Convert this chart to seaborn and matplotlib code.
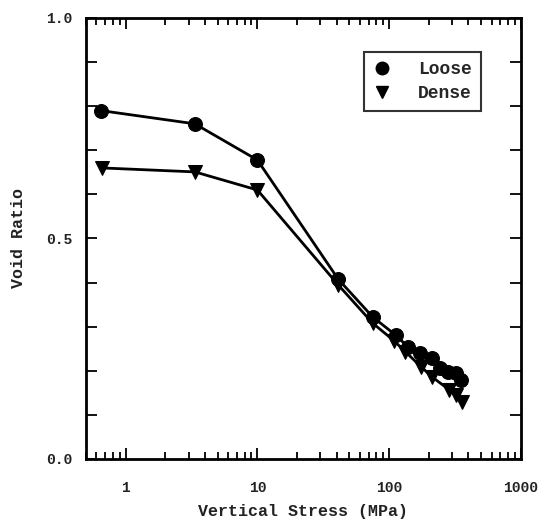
import numpy as np
import pandas as pd
import matplotlib
matplotlib.use("Agg")
import matplotlib.pyplot as plt
from matplotlib.ticker import FixedLocator, FixedFormatter, LogLocator, NullFormatter
from matplotlib.lines import Line2D
import seaborn as sns

# Compression data: vertical stress (MPa) vs void ratio
loose_stress = [0.65, 3.35, 10, 41, 75, 112, 139, 172, 212, 245, 280, 322, 352]
loose_void = [0.790, 0.760, 0.678, 0.408, 0.322, 0.281, 0.254, 0.240, 0.229, 0.206, 0.197, 0.194, 0.180]
dense_stress = [0.66, 3.35, 10, 41, 75, 109, 133, 175, 212, 285, 322, 360]
dense_void = [0.660, 0.651, 0.610, 0.395, 0.308, 0.268, 0.243, 0.209, 0.186, 0.157, 0.145, 0.130]

y_ticks = [0.0, 0.1, 0.2, 0.3, 0.4, 0.5, 0.6, 0.7, 0.8, 0.9, 1.0]
y_labels = ["0.0", "", "", "", "", "0.5", "", "", "", "", "1.0"]
x_ticks = [1, 10, 100, 1000]
x_labels = ["1", "10", "100", "1000"]

df = pd.concat([
    pd.DataFrame({"stress": loose_stress, "void": loose_void, "sample": "Loose"}),
    pd.DataFrame({"stress": dense_stress, "void": dense_void, "sample": "Dense"}),
])

sns.set_style("ticks")
plt.rcParams["font.family"] = ["Liberation Mono", "DejaVu Sans Mono"]
plt.rcParams["font.weight"] = "bold"

fig = plt.figure(figsize=(5.46, 5.23), dpi=100)
ax = fig.add_axes([0.1575, 0.1224, 0.7965, 0.8432])

sns.lineplot(data=df, x="stress", y="void", style="sample",
             markers={"Loose": "o", "Dense": "v"}, dashes=False,
             color="black", linewidth=2.0, markersize=10,
             markeredgecolor="black", sort=False, ax=ax, legend=False)

ax.set_xscale("log")
ax.set_xlim(0.5, 1000)
ax.set_ylim(0, 1.0)

ax.xaxis.set_major_locator(FixedLocator(x_ticks))
ax.xaxis.set_major_formatter(FixedFormatter(x_labels))
ax.xaxis.set_minor_locator(LogLocator(base=10, subs=np.arange(2, 10), numticks=20))
ax.xaxis.set_minor_formatter(NullFormatter())
ax.yaxis.set_major_locator(FixedLocator(y_ticks))
ax.yaxis.set_major_formatter(FixedFormatter(y_labels))

ax.tick_params(which="both", direction="in", top=True, right=True, color="black",
               width=1.3, labelsize=10.5, labelcolor="#222222")
ax.tick_params(which="major", length=8)
ax.tick_params(axis="y", which="major", pad=10)
ax.tick_params(axis="x", which="major", pad=16)
ax.tick_params(which="minor", length=5)
for s in ax.spines.values():
    s.set_linewidth(2.0)
    s.set_color("black")

ax.set_xlabel("Vertical Stress (MPa)", fontsize=12, fontweight="bold", labelpad=6, color="#222222")
ax.set_ylabel("Void Ratio", fontsize=12, fontweight="bold", labelpad=14, color="#222222")

handles = [Line2D([], [], marker="o", color="black", linestyle="none", markersize=9),
           Line2D([], [], marker="v", color="black", linestyle="none", markersize=9)]
leg = ax.legend(handles, ["Loose", "Dense"], loc="upper right",
                bbox_to_anchor=(0.908, 0.923), borderaxespad=0.0,
                frameon=True, fancybox=False,
                edgecolor="black", fontsize=13, handlelength=1.0, handletextpad=1.5,
                borderpad=0.5, labelspacing=0.4)
leg.get_frame().set_linewidth(1.5)

fig.savefig("out.png", dpi=100, facecolor="white")
